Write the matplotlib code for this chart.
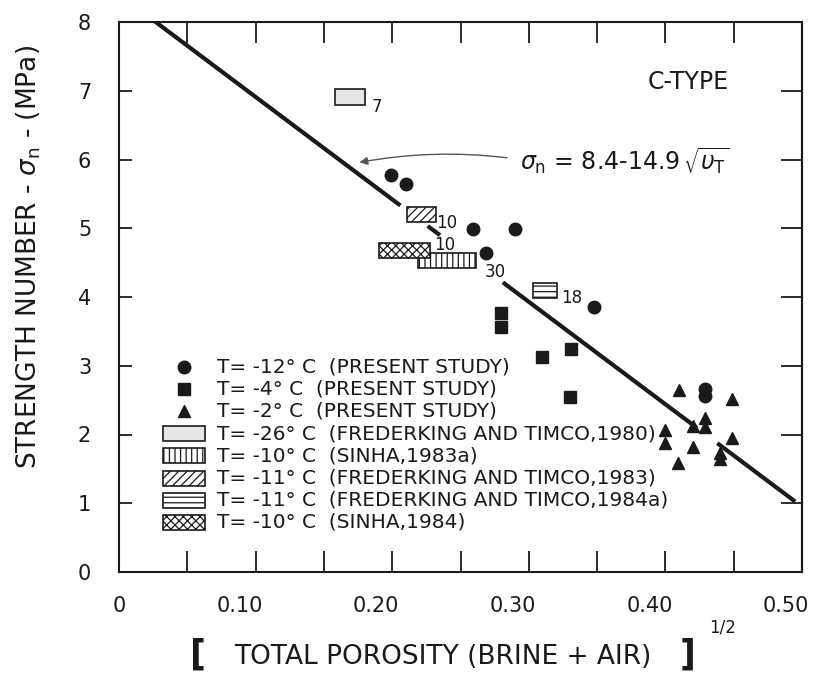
import matplotlib
matplotlib.use("Agg")
import matplotlib.pyplot as plt
import matplotlib.transforms as mtransforms
from matplotlib.patches import Rectangle

plt.rcParams['font.family'] = ['DejaVu Sans']
plt.rcParams['hatch.linewidth'] = 0.9
INK = '#1a1a1a'

# ---- present study --------------------------------------------------------
# T = -12 C
x_m12 = [0.199, 0.210, 0.259, 0.290, 0.269, 0.348, 0.429, 0.429]
y_m12 = [5.77, 5.65, 4.99, 4.99, 4.64, 3.85, 2.66, 2.56]
# T = -4 C
x_m4 = [0.280, 0.280, 0.310, 0.331, 0.330]
y_m4 = [3.77, 3.56, 3.13, 3.24, 2.55]
# T = -2 C
x_m2 = [0.410, 0.449, 0.429, 0.429, 0.420, 0.400, 0.400, 0.420, 0.449,
        0.440, 0.440, 0.409]
y_m2 = [2.65, 2.52, 2.24, 2.11, 2.12, 2.07, 1.88, 1.82, 1.95,
        1.73, 1.64, 1.59]

point_labels = ['T= -12° C  (PRESENT STUDY)',
                'T= -4° C  (PRESENT STUDY)',
                'T= -2° C  (PRESENT STUDY)']
point_markers = ['o', 's', '^']
point_sizes = [9, 8.5, 9]

# ---- published data (ranges of porosity and strength) ----------------------
lit_labels = ['T= -26° C  (FREDERKING AND TIMCO,1980)',
              'T= -10° C  (SINHA,1983a)',
              'T= -11° C  (FREDERKING AND TIMCO,1983)',
              'T= -11° C  (FREDERKING AND TIMCO,1984a)',
              'T= -10° C  (SINHA,1984)']
lit_x0 = [0.158, 0.219, 0.211, 0.303, 0.190]
lit_x1 = [0.180, 0.261, 0.232, 0.321, 0.228]
lit_y0 = [6.79, 4.42, 5.09, 3.99, 4.57]
lit_y1 = [7.03, 4.64, 5.31, 4.21, 4.79]
lit_n = ['7', '30', '10', '18', '10']
lit_n_x = [0.189, 0.2752, 0.2398, 0.3317, 0.2386]
lit_n_y = [6.76, 4.36, 5.08, 3.99, 4.76]
lit_face = ['#e6e6e6', 'white', 'white', 'white', 'white']
lit_hatch = [None, '|||', '////', '---', 'xxxx']

# ---- regression sigma_n = a - b * sqrt(v_T), drawn in pieces -----------------
fit_a, fit_b = 8.4, 14.9
seg_start = [0.026, 0.226, 0.281, 0.438]
seg_end = [0.206, 0.235, 0.423, 0.495]

x_ticks = [0.0, 0.1, 0.2, 0.3, 0.4, 0.5]
x_ticklabels = ['0', '0.10', '0.20', '0.30', '0.40', '0.50']
x_minor = [0.05 * i for i in range(11)]
y_ticks = list(range(0, 9))

W, H = 816, 675
AX_L, AX_R, AX_T, AX_B = 119, 802, 22, 572
fig = plt.figure(figsize=(W / 100, H / 100), dpi=100)
ax = fig.add_axes([AX_L / W, 1 - AX_B / H, (AX_R - AX_L) / W, (AX_B - AX_T) / H])
ax.set_xlim(0, 0.5)
ax.set_ylim(0, 8)

for s in ax.spines.values():
    s.set_linewidth(1.5)
    s.set_color(INK)

# regression line
for xs, xe in zip(seg_start, seg_end):
    ax.plot([xs, xe], [fit_a - fit_b * xs, fit_a - fit_b * xe],
            color=INK, lw=3.0, solid_capstyle='butt', zorder=2)

# published ranges as boxes
for x0, x1, y0, y1, fc, h in zip(lit_x0, lit_x1, lit_y0, lit_y1, lit_face, lit_hatch):
    ax.add_patch(Rectangle((x0, y0), x1 - x0, y1 - y0, facecolor=fc,
                           edgecolor=INK, hatch=h, lw=1.2, zorder=3))
for t, tx, ty in zip(lit_n, lit_n_x, lit_n_y):
    ax.text(tx, ty, t, fontsize=12, color=INK, ha='center', va='center', zorder=4)

# present study points
for xs, ys, m, ms in zip([x_m12, x_m4, x_m2], [y_m12, y_m4, y_m2],
                         point_markers, point_sizes):
    ax.plot(xs, ys, m, color=INK, ms=ms, ls='none', zorder=5)

# equation and arrow
ax.annotate('', xy=(0.174, 5.95), xytext=(0.286, 6.02),
            arrowprops=dict(arrowstyle='-|>', color='#555555', lw=1.0,
                            mutation_scale=12, connectionstyle='arc3,rad=0.08'))
ax.text(0.2935, 5.99, r'$\sigma_{\rm n}$ = 8.4-14.9$\,\sqrt{\upsilon_{\rm T}}$',
        fontsize=17, color=INK, ha='left', va='center')
ax.text(0.4165, 7.13, 'C-TYPE', fontsize=17, color=INK, ha='center', va='center')

# ticks
ax.set_xticks(x_ticks)
ax.set_xticklabels(x_ticklabels)
ax.set_xticks(x_minor, minor=True)
ax.set_yticks(y_ticks)
ax.tick_params(axis='x', which='both', direction='in', top=True, bottom=True,
               length=15, width=1.3, color=INK)
ax.tick_params(axis='x', which='major', labelsize=15, pad=17, labelcolor=INK)
ax.tick_params(axis='y', which='major', direction='in', left=True, right=False,
               length=9, width=1.3, color=INK, labelsize=15, pad=20, labelcolor=INK)
sec = ax.secondary_yaxis('right')
sec.set_yticks(y_ticks)
sec.tick_params(direction='in', length=15, width=1.3, color=INK, labelright=False)
sec.spines['right'].set_linewidth(1.5)

shift = mtransforms.ScaledTranslation(-16 / 100, 0, fig.dpi_scale_trans)
for lbl in ax.get_xticklabels()[1:]:
    lbl.set_transform(lbl.get_transform() + shift)

# axis titles
ax.set_ylabel(r'STRENGTH NUMBER - $\sigma_{\rm n}$ - (MPa)', fontsize=19, color=INK)
ax.yaxis.set_label_coords(-0.112, 0.573)
ax.text(0.474, -0.155, 'TOTAL POROSITY (BRINE + AIR)', transform=ax.transAxes,
        fontsize=19, color=INK, ha='center', va='center')
ax.text(0.116, -0.150, '[', transform=ax.transAxes, fontsize=25,
        fontweight='bold', color=INK, ha='center', va='center')
ax.text(0.833, -0.150, ']', transform=ax.transAxes, fontsize=25,
        fontweight='bold', color=INK, ha='center', va='center')
ax.text(0.884, -0.100, '1/2', transform=ax.transAxes, fontsize=12,
        color=INK, ha='center', va='center')


# key, drawn in axes fractions
def ax_x(px):
    return (px - AX_L) / (AX_R - AX_L)


def ax_y(py):
    return (AX_B - py) / (AX_B - AX_T)


row_y = [367 + 22.2 * i for i in range(8)]
for i, (m, ms, lab) in enumerate(zip(point_markers, point_sizes, point_labels)):
    ax.plot([ax_x(184)], [ax_y(row_y[i])], m, color=INK, ms=ms,
            transform=ax.transAxes, clip_on=False)
    ax.text(ax_x(217), ax_y(row_y[i]), lab, transform=ax.transAxes,
            fontsize=14.5, color=INK, ha='left', va='center')
for j, (fc, h, lab) in enumerate(zip(lit_face, lit_hatch, lit_labels)):
    yc = row_y[3 + j]
    ax.add_patch(Rectangle((ax_x(163), ax_y(yc + 7.5)), ax_x(205) - ax_x(163),
                           ax_y(yc - 7.5) - ax_y(yc + 7.5), transform=ax.transAxes,
                           facecolor=fc, edgecolor=INK, hatch=h, lw=1.2))
    ax.text(ax_x(217), ax_y(yc), lab, transform=ax.transAxes,
            fontsize=14.5, color=INK, ha='left', va='center')

fig.savefig('out.png', dpi=100, facecolor='white')
